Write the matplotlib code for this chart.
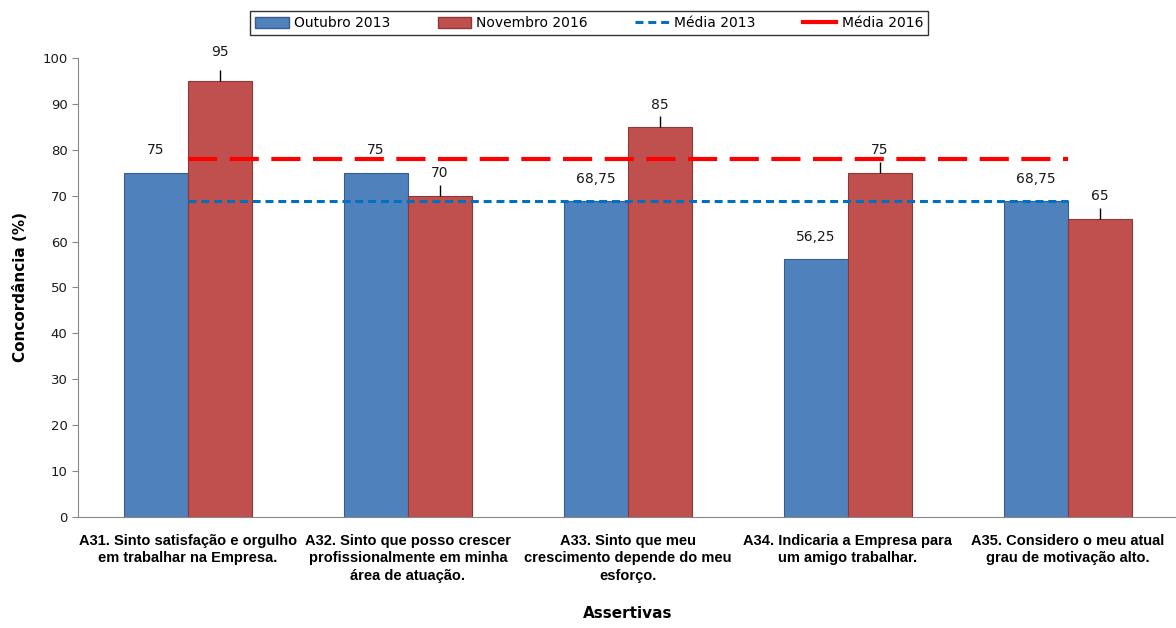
import matplotlib.pyplot as plt
from matplotlib.patches import Patch
from matplotlib.lines import Line2D
import numpy as np

# Assertivas e percentuais de concordância
categorias = [
    "A31. Sinto satisfação e orgulho\nem trabalhar na Empresa.",
    "A32. Sinto que posso crescer\nprofissionalmente em minha\nárea de atuação.",
    "A33. Sinto que meu\ncrescimento depende do meu\nesforço.",
    "A34. Indicaria a Empresa para\num amigo trabalhar.",
    "A35. Considero o meu atual\ngrau de motivação alto.",
]
out_2013 = [75, 75, 68.75, 56.25, 68.75]
nov_2016 = [95, 70, 85, 75, 65]
rotulos_2013 = ["75", "75", "68,75", "56,25", "68,75"]
rotulos_2016 = ["95", "70", "85", "75", "65"]

media_2013 = np.mean(out_2013)
media_2016 = np.mean(nov_2016)

azul = "#4F81BD"
azul_borda = "#385D8A"
verm = "#C0504D"
verm_borda = "#8C3836"

plt.rcParams['font.family'] = ['DejaVu Sans']

fig = plt.figure(figsize=(11.76, 6.28), dpi=100)
ax = fig.add_axes([0.0663, 0.1768, 0.9354, 0.7309])

x = np.arange(len(categorias))
w = 0.29

ax.bar(x - w / 2, out_2013, w, color=azul, edgecolor=azul_borda, linewidth=0.8, zorder=2)
ax.bar(x + w / 2, nov_2016, w, color=verm, edgecolor=verm_borda, linewidth=0.8, zorder=2)

# linhas de chamada acima das barras de 2016
ax.vlines(x + w / 2, nov_2016, np.array(nov_2016) + 2.3, color="black", linewidth=1.0, zorder=3)

# médias
ax.plot(x, [media_2013] * len(x), color="#0070C0", linewidth=2.2,
        dashes=(2.6, 1.6), zorder=4)
ax.plot(x, [media_2016] * len(x), color="#FF0000", linewidth=3.0,
        dashes=(7.0, 3.0), zorder=4)

# rótulos de dados
for xi, v, t in zip(x, out_2013, rotulos_2013):
    ax.annotate(t, (xi - w / 2, v), xytext=(0, 16), textcoords="offset points",
                ha="center", va="center", fontsize=10, color="#1a1a1a")
for xi, v, t in zip(x, nov_2016, rotulos_2016):
    off = 21 if v > 90 else 16
    ax.annotate(t, (xi + w / 2, v), xytext=(0, off), textcoords="offset points",
                ha="center", va="center", fontsize=10, color="#1a1a1a")

ax.set_xlim(-0.5, 4.5)
ax.set_ylim(0, 100)
ax.set_yticks(np.arange(0, 101, 10))
ax.tick_params(axis="y", labelsize=9.5, length=4, color="#888888", labelcolor="#1a1a1a")
ax.set_xticks(x)
ax.set_xticklabels(categorias, fontsize=10.5, fontweight="bold",
                   family=["Liberation Sans Narrow", "Liberation Sans"], linespacing=1.35)
ax.tick_params(axis="x", length=0, pad=12)

for s in ["top", "right"]:
    ax.spines[s].set_visible(False)
for s in ["left", "bottom"]:
    ax.spines[s].set_color("#888888")

ax.set_ylabel("Concordância (%)", fontsize=11, fontweight="bold", labelpad=10)
ax.set_xlabel("Assertivas", fontsize=11, fontweight="bold", labelpad=16)

handles = [
    Patch(facecolor=azul, edgecolor=azul_borda),
    Patch(facecolor=verm, edgecolor=verm_borda),
    Line2D([], [], color="#0070C0", linewidth=2.2, dashes=(2.6, 1.6)),
    Line2D([], [], color="#FF0000", linewidth=3.0),
]
labels = ["Outubro 2013", "Novembro 2016", "Média 2013", "Média 2016"]
leg = fig.legend(handles, labels, loc="center", bbox_to_anchor=(0.501, 0.963),
                 ncol=4, fontsize=10, frameon=True, fancybox=False,
                 edgecolor="black", handlelength=2.4, handleheight=0.9,
                 columnspacing=3.4, handletextpad=0.4, borderpad=0.35,
                 borderaxespad=0)
leg.get_frame().set_linewidth(1.0)

fig.savefig("out.png", dpi=100)
